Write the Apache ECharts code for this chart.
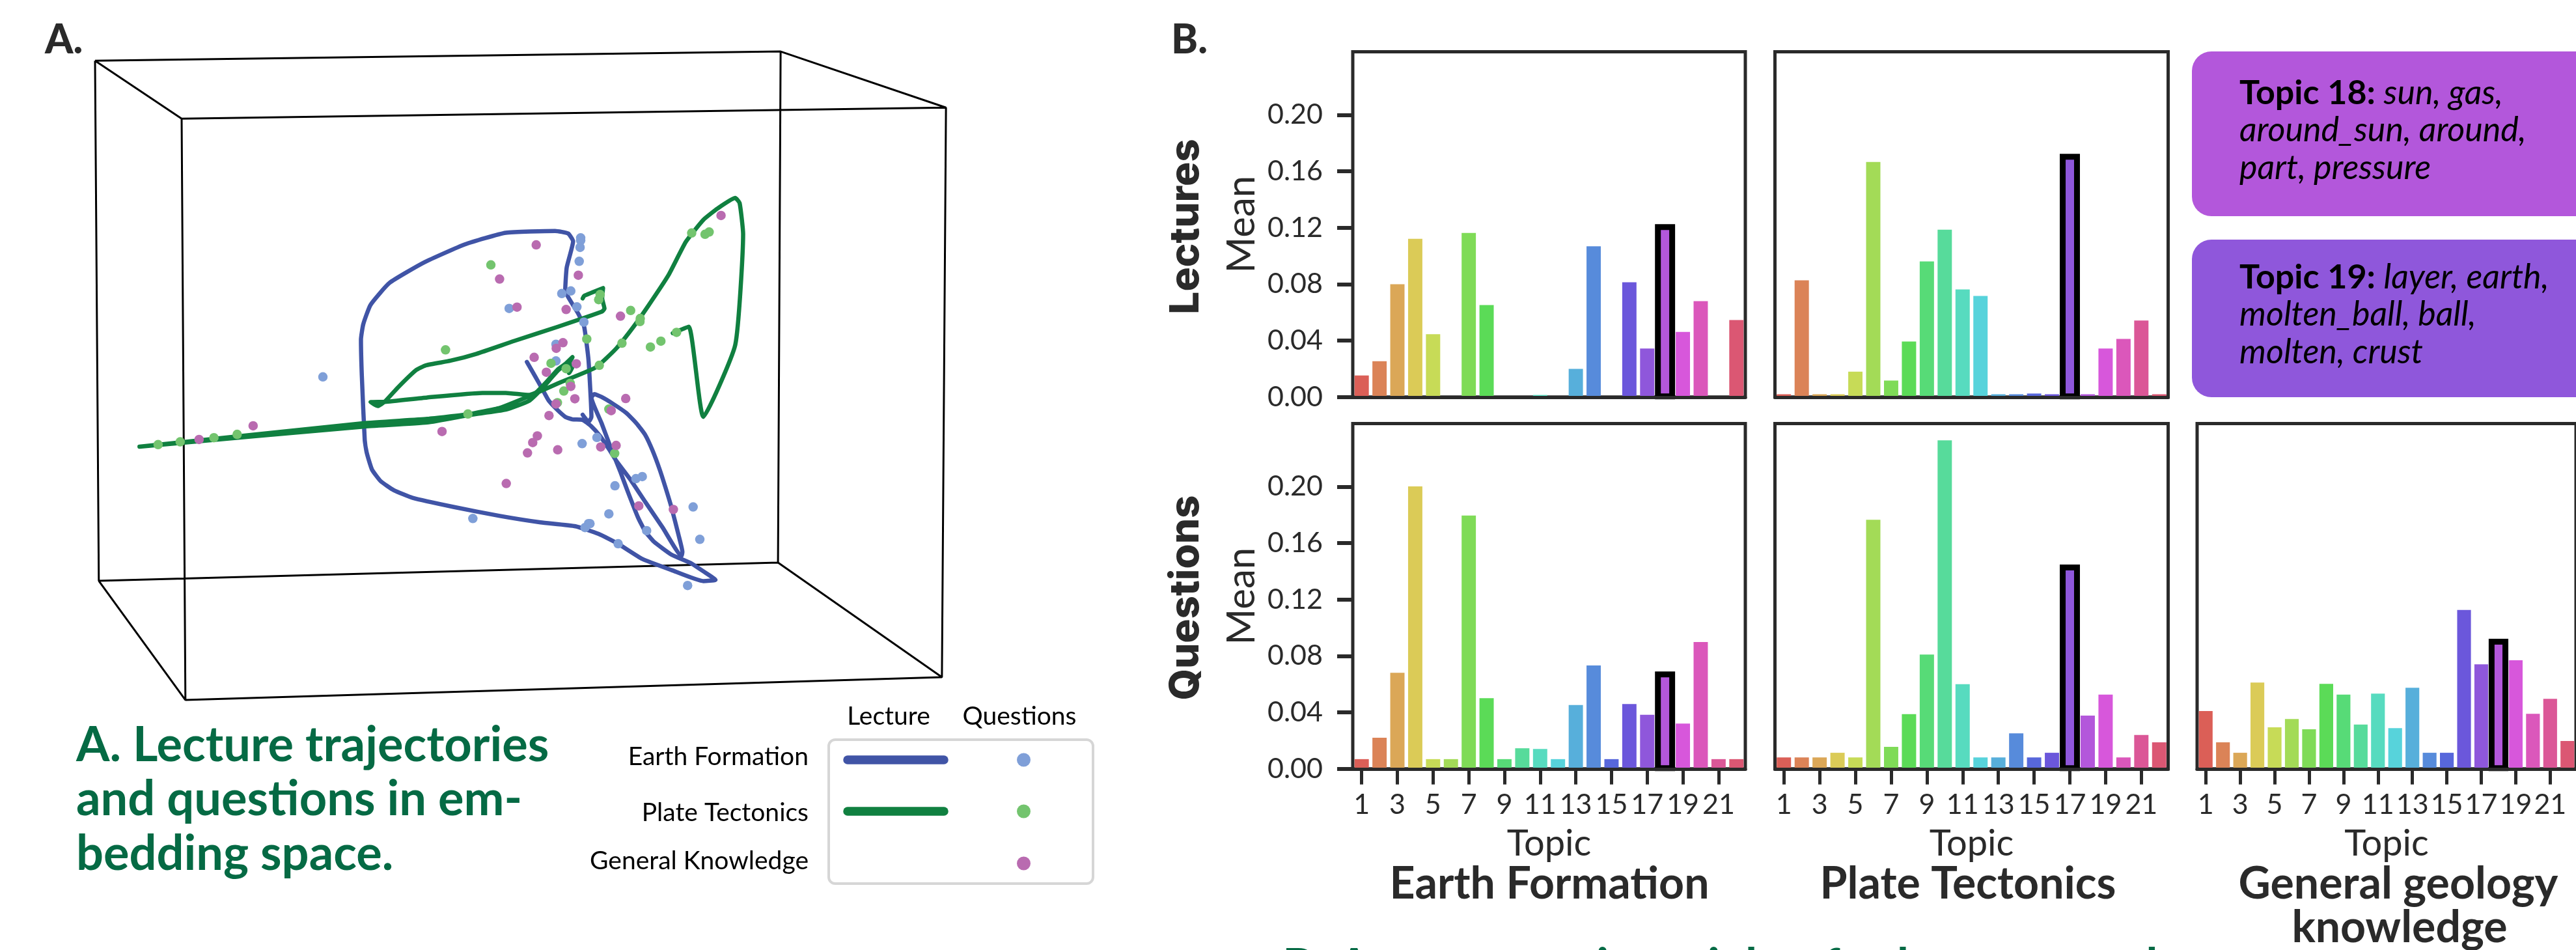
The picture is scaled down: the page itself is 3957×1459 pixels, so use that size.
<!DOCTYPE html>
<html><head><meta charset="utf-8">
<style>html,body{margin:0;padding:0;background:#fff;overflow:hidden}#c{width:3957px;height:1459px}</style>
<script src="https://cdn.jsdelivr.net/npm/echarts@6/dist/echarts.min.js"></script>
</head><body><div id="c"></div>
<script>
// ---- Panel A: projected embedding coordinates ----
const boxEdges = [
 [-793,-523],[1566,-559],[1557,1426],[-780,1497],[-793,-523],null,
 [-495,-298],[2135,-341],[2121,1871],[-482,1960],[-495,-298],null,
 [-793,-523],[-495,-298],null,[1566,-559],[2135,-341],null,
 [1557,1426],[2121,1871],null,[-780,1497],[-482,1960]
];
const earthLecture = [[693,647],[720,700],[745,750],[768,797],[795,830],[825,860],[850,870],[885,872],[915,897],[945,935],[975,985],[1000,1030],[1050,1105],[1100,1190],[1160,1290],[1225,1400],[1228,1385],[1215,1320],[1190,1210],[1170,1135],[1150,1065],[1125,990],[1100,930],[1070,885],[1035,845],[990,810],[950,783],[925,772],[915,785],[950,885],[985,990],[1015,1075],[1040,1150],[1075,1250],[1100,1305],[1130,1345],[1190,1395],[1260,1430],[1300,1460],[1342,1493],[1300,1498],[1190,1455],[1090,1412],[1005,1352],[940,1315],[860,1285],[740,1270],[600,1245],[440,1210],[300,1175],[235,1145],[190,1110],[160,1065],[142,1000],[135,950],[125,700],[122,560],[130,500],[155,425],[220,340],[340,260],[480,190],[620,145],[790,138],[835,148],[852,178],[830,280],[825,365],[835,395],[870,460],[890,510],[905,640],[915,860],[905,880],[885,852]];
const plateLecture = [[885,400],[890,390],[955,360],[952,400],[960,440],[950,452],[800,510],[650,565],[520,615],[430,642],[345,660],[310,680],[250,745],[205,800],[180,818],[155,803],[205,802],[350,785],[540,767],[620,767],[700,775],[725,765],[760,725],[800,675],[825,655],[850,628],[835,665],[838,690],[850,665],[830,655],[800,680],[745,750],[700,798],[620,832],[500,852],[350,882],[130,898],[-640,976],[130,885],[350,868],[490,850],[600,825],[700,780],[800,730],[930,668],[1000,595],[1060,510],[1110,430],[1180,310],[1240,180],[1300,95],[1350,50],[1410,10],[1425,30],[1437,150],[1410,580],[1300,860],[1250,510],[1195,535]];
const earthQuestions = [[878,165],[878,175],[876,202],[873,256],[813,381],[844,371],[865,433],[889,492],[632,439],[793,578],[793,643],[-9,705],[934,940],[883,964],[1068,1100],[1090,1092],[996,1128],[1265,1210],[975,1237],[1288,1336],[1105,1302],[1007,1353],[507,1255],[893,1290],[905,1275],[910,1275],[1246,1515]];
const plateQuestions = [[569,270],[1260,146],[1306,151],[1320,142],[945,385],[940,405],[1050,447],[1083,478],[1082,490],[1208,532],[1154,566],[1118,589],[899,558],[1020,574],[942,660],[413,600],[776,652],[828,673],[842,730],[820,760],[798,805],[975,830],[490,849],[995,1002],[-576,968],[-500,957],[-384,941],[-304,928]];
const generalQuestions = [[725,192],[870,310],[599,325],[659,434],[828,443],[1015,469],[1361,78],[817,572],[794,594],[718,629],[863,654],[760,687],[844,742],[858,790],[793,810],[769,855],[1033,789],[983,836],[401,917],[729,934],[713,960],[695,1000],[799,988],[947,977],[1000,971],[622,1119],[1078,1206],[1197,1220],[-435,948],[-249,895]];

// ---- Panel B: mean topic weights ----
const topics = ['1','2','3','4','5','6','7','8','9','10','11','12','13','14','15','16','17','18','19','20','21','22'];
const topicColors = ['#DB5F57','#DB8357','#DBA757','#DBCB57','#C7DB57','#A3DB57','#7FDB57','#5BDB57','#57DB77','#57DB9B','#57DBBF','#57D3DB','#57AFDB','#578BDB','#5767DB','#6B57DB','#8F57DB','#B357DB','#D757DB','#DB57BB','#DB5797','#DB5773'];
const lecturesEarth = [.0153,.0254,.080,.1122,.0445,0,.1163,.0652,0,0,.0015,0,.020,.1068,0,.0814,.0344,.1205,.0462,.068,0,.0546];
const lecturesPlate = [.002,.0827,.002,.002,.018,.1666,.0117,.0394,.0961,.1186,.0763,.0717,.002,.002,.0025,.002,.1703,.002,.0344,.0412,.0542,.002];
const questionsEarth = [.0069,.022,.0681,.2002,.0069,.0069,.1795,.0501,.0069,.0146,.0141,.0069,.0452,.0733,.0069,.0459,.0383,.0669,.0321,.0899,.0069,.0069];
const questionsPlate = [.0081,.0081,.0081,.0114,.0081,.1765,.0156,.0388,.081,.2328,.06,.0081,.0081,.0252,.0081,.0114,.1427,.0378,.0526,.0081,.024,.0188];
const questionsGeneral = [.041,.0188,.0114,.0612,.0294,.0353,.0281,.0602,.0526,.0314,.0533,.0289,.0575,.0114,.0114,.1126,.0741,.0901,.077,.039,.0496,.0198];
const yTicks = [0,.04,.08,.12,.16,.20];

const FONT='Lato', INK='#2a2a2a', GREEN='#056A44';
const panels = [
 {v:lecturesEarth,  l:2078,  t:79.5, w:603, hi:17, yl:true,  xl:false},
 {v:lecturesPlate,  l:2726.5,t:79.5, w:604, hi:16, yl:false, xl:false},
 {v:questionsEarth, l:2078,  t:650.5,w:603, hi:17, yl:true,  xl:true},
 {v:questionsPlate, l:2726.5,t:650.5,w:604, hi:16, yl:false, xl:true},
 {v:questionsGeneral,l:3375, t:650.5,w:604, hi:17, yl:false, xl:true}
];
const grid=[{left:0,top:0,width:1700,height:1100,show:false}];
const xAxis=[{type:'value',gridIndex:0,min:-1120,max:2688,show:false}];
const yAxis=[{type:'value',gridIndex:0,min:-759,max:2023,inverse:true,show:false}];
const series=[
 {type:'line',xAxisIndex:0,yAxisIndex:0,data:boxEdges.map(p=>p||['-','-']),showSymbol:false,connectNulls:false,lineStyle:{color:'#000',width:3},silent:true,z:1},
 {name:'Earth Formation lecture',type:'line',xAxisIndex:0,yAxisIndex:0,data:earthLecture,showSymbol:false,smooth:.15,lineStyle:{color:'#4054A6',width:6.5,cap:'round',join:'round'},z:2},
 {name:'Plate Tectonics lecture',type:'line',xAxisIndex:0,yAxisIndex:0,data:plateLecture,showSymbol:false,smooth:.15,lineStyle:{color:'#108040',width:6.5,cap:'round',join:'round'},z:3},
 {name:'Earth Formation questions',type:'scatter',xAxisIndex:0,yAxisIndex:0,data:earthQuestions,symbolSize:14.5,itemStyle:{color:'#7F9FD8',opacity:1},z:4},
 {name:'Plate Tectonics questions',type:'scatter',xAxisIndex:0,yAxisIndex:0,data:plateQuestions,symbolSize:14.5,itemStyle:{color:'#73C46E',opacity:1},z:5},
 {name:'General Knowledge questions',type:'scatter',xAxisIndex:0,yAxisIndex:0,data:generalQuestions,symbolSize:14.5,itemStyle:{color:'#B96BB0',opacity:1},z:6}
];
panels.forEach((p,i)=>{
 const k=i+1;
 grid.push({left:p.l,top:p.t,width:p.w,height:530.3,show:true,borderColor:INK,borderWidth:5,backgroundColor:'#fff',z:0});
 xAxis.push({type:'category',gridIndex:k,data:topics,z:8,
  name:p.xl?'Topic':'',nameLocation:'middle',nameGap:87,nameTextStyle:{fontFamily:FONT,fontSize:56,color:INK},
  axisLine:{show:true,onZero:false,lineStyle:{color:INK,width:5}},
  axisTick:{show:p.xl,alignWithLabel:true,interval:1,length:24,lineStyle:{color:INK,width:5}},
  axisLabel:{show:p.xl,interval:1,margin:34,fontFamily:FONT,fontWeight:400,fontSize:43,color:INK},
  splitLine:{show:false}});
 yAxis.push({type:'value',gridIndex:k,min:0,max:.2447,z:8,
  name:p.yl?'Mean':'',nameLocation:'middle',nameGap:140,nameRotate:90,nameTextStyle:{fontFamily:FONT,fontSize:60,color:INK},
  axisLine:{show:false},
  axisTick:{show:p.yl,customValues:yTicks,length:24,lineStyle:{color:INK,width:6}},
  axisLabel:{show:p.yl,customValues:yTicks,margin:46,fontFamily:FONT,fontWeight:400,fontSize:43,color:INK,formatter:v=>Number(v).toFixed(2)},
  splitLine:{show:false}});
 series.push({name:'Panel '+k,type:'bar',xAxisIndex:k,yAxisIndex:k,barWidth:'80%',z:3,
  data:p.v.map((v,j)=>({value:v,itemStyle:{color:topicColors[j]}}))});
 series.push({name:'Panel '+k+' highlight',type:'custom',xAxisIndex:k,yAxisIndex:k,z:4,clip:false,
  data:[[p.hi,p.v[p.hi]]],
  renderItem:(params,api)=>{
   const top=api.coord([api.value(0),api.value(1)]), base=api.coord([api.value(0),0]), bw=api.size([1,0])[0]*0.8;
   return {type:'rect',shape:{x:top[0]-bw/2,y:top[1],width:bw,height:base[1]-top[1]-1},
     style:{fill:topicColors[p.hi],stroke:'#000',lineWidth:9}};
  }});
});
const mctx=document.createElement('canvas').getContext('2d');
function off(font,size){mctx.font=font;mctx.textBaseline='alphabetic';const m=mctx.measureText('Hg');return (m.fontBoundingBoxAscent-m.fontBoundingBoxDescent)/2-0.11*size;}
function txt(text,x,base,size,o={}){
 const font=`${o.italic?'italic ':''}${o.weight||400} ${size}px ${o.family||FONT}`, d=off(font,size);
 return {type:'text',x:o.rot?x-d:x,y:o.rot?base:base-d,rotation:o.rot||0,z:20,silent:true,style:{text,fill:o.fill||INK,font,
  align:o.align||'left',verticalAlign:'middle'}};
}
const rich={b:{font:`700 52px ${FONT}`,fill:'#000',lineHeight:57.5},i:{font:`italic 400 52px ${FONT}`,fill:'#000',lineHeight:57.5}};
const graphic=[
 txt('A.',69,79,62,{weight:900}),
 txt('B.',1799,79,62,{weight:900}),
 txt('A. Lecture trajectories',117,1166,74,{weight:700,fill:GREEN}),
 txt('and questions in em-',117,1249,74,{weight:700,fill:GREEN}),
 txt('bedding space.',117,1333,74,{weight:700,fill:GREEN}),
 txt('B. Average topic weights for lectures and',1970,1507,74,{weight:700,fill:GREEN}),
 txt('Lecture',1365,1111,39,{fill:'#000',align:'center'}),
 txt('Questions',1566,1111,39,{fill:'#000',align:'center'}),
 txt('Earth Formation',1242,1173,39,{fill:'#000',align:'right'}),
 txt('Plate Tectonics',1242,1259,39,{fill:'#000',align:'right'}),
 txt('General Knowledge',1242,1333,39,{fill:'#000',align:'right'}),
 {type:'rect',z:10,shape:{x:1273,y:1136,width:406,height:221,r:10},style:{fill:'#fff',stroke:'#d6d6d6',lineWidth:4}},
 {type:'line',z:11,shape:{x1:1302,y1:1167,x2:1450,y2:1167},style:{stroke:'#4054A6',lineWidth:13.5,lineCap:'round'}},
 {type:'line',z:11,shape:{x1:1302,y1:1246,x2:1450,y2:1246},style:{stroke:'#108040',lineWidth:13.5,lineCap:'round'}},
 {type:'circle',z:11,shape:{cx:1572.5,cy:1167,r:10.5},style:{fill:'#7F9FD8'}},
 {type:'circle',z:11,shape:{cx:1572.5,cy:1246,r:10.5},style:{fill:'#73C46E'}},
 {type:'circle',z:11,shape:{cx:1572.5,cy:1326,r:10.5},style:{fill:'#B96BB0'}},
 txt('Lectures',1838,348,62,{rot:Math.PI/2,weight:800,family:'Inter',align:'center'}),
 txt('Questions',1838,918,62,{rot:Math.PI/2,weight:800,family:'Inter',align:'center'}),
 txt('Earth Formation',2380,1377,68,{weight:700,align:'center'}),
 txt('Plate Tectonics',3023,1377,68,{weight:700,align:'center'}),
 txt('General geology',3684,1377,68,{weight:700,align:'center'}),
 txt('knowledge',3686,1444,68,{weight:700,align:'center'}),
 {type:'rect',z:10,shape:{x:3367,y:79,width:700,height:253,r:30},style:{fill:'#B357DB'}},
 {type:'rect',z:10,shape:{x:3367,y:368,width:700,height:242,r:30},style:{fill:'#8F57DB'}},
 {type:'text',z:20,x:3440,y:114,style:{text:'{b|Topic 18: }{i|sun, gas,}\n{i|around_sun, around,}\n{i|part, pressure}',rich,align:'left',verticalAlign:'top'}},
 {type:'text',z:20,x:3440,y:397,style:{text:'{b|Topic 19: }{i|layer, earth,}\n{i|molten_ball, ball,}\n{i|molten, crust}',rich,align:'left',verticalAlign:'top'}}
];
const chart=echarts.init(document.getElementById('c'),null,{renderer:'canvas',width:3957,height:1459,devicePixelRatio:1});
chart.setOption({animation:false,backgroundColor:'#fff',grid,xAxis,yAxis,series,graphic:{elements:graphic}});
</script></body></html>
